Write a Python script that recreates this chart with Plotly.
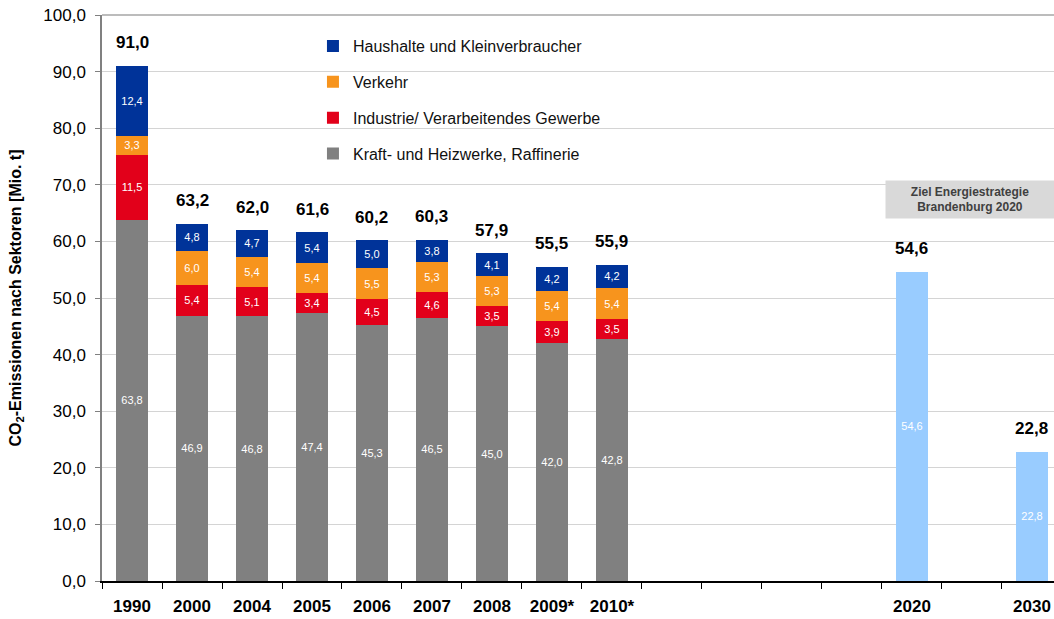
import plotly.graph_objects as go

categories = ["1990", "2000", "2004", "2005", "2006", "2007", "2008", "2009*", "2010*",
              " ", "  ", "   ", "    ", "2020", "     ", "2030"]
hist_years = ["1990", "2000", "2004", "2005", "2006", "2007", "2008", "2009*", "2010*"]
kraft = [63.8, 46.9, 46.8, 47.4, 45.3, 46.5, 45.0, 42.0, 42.8]
industrie = [11.5, 5.4, 5.1, 3.4, 4.5, 4.6, 3.5, 3.9, 3.5]
verkehr = [3.3, 6.0, 5.4, 5.4, 5.5, 5.3, 5.3, 5.4, 5.4]
haushalte = [12.4, 4.8, 4.7, 5.4, 5.0, 3.8, 4.1, 4.2, 4.2]
totals = [91.0, 63.2, 62.0, 61.6, 60.2, 60.3, 57.9, 55.5, 55.9]
target_years = ["2020", "2030"]
targets = [54.6, 22.8]

FONT = "Liberation Sans, Arial, sans-serif"
BAR_W = 0.53


def fmt(v):
    return f"{v:.1f}".replace(".", ",")


series = [
    ("Kraft- und Heizwerke, Raffinerie", kraft, "#808080", 4),
    ("Industrie/ Verarbeitendes Gewerbe", industrie, "#E2001A", 3),
    ("Verkehr", verkehr, "#F7941D", 2),
    ("Haushalte und Kleinverbraucher", haushalte, "#003399", 1),
]

fig = go.Figure()
for name, vals, color, rank in series:
    fig.add_trace(go.Bar(
        x=hist_years, y=vals, name=name, marker_color=color, marker_line_width=0,
        width=BAR_W, text=[fmt(v) for v in vals], textposition="inside",
        insidetextanchor="middle", textangle=0,
        textfont=dict(family=FONT, size=11, color="white"),
        legendgroup=name, legendrank=rank,
    ))

fig.add_trace(go.Bar(
    x=target_years, y=targets, marker_color="#99CCFF", marker_line_width=0,
    width=BAR_W, text=[fmt(v) for v in targets], textposition="inside",
    insidetextanchor="middle", textangle=0,
    textfont=dict(family=FONT, size=11, color="white"), showlegend=False,
))

# total labels (annotation x given as category index, since numeric-looking names are read as numbers)
for x, t in list(zip(hist_years, totals)) + list(zip(target_years, targets)):
    fig.add_annotation(x=categories.index(x), y=t, text=f"<b>{fmt(t)}</b>", showarrow=False,
                       yanchor="middle", yshift=23,
                       font=dict(family=FONT, size=17, color="black"))

# white background behind legend (covers gridlines)
fig.add_shape(type="rect", xref="paper", yref="paper", x0=0.1985, x1=0.56,
              y0=0.705, y1=0.99, fillcolor="white", line_width=0, layer="between")
# top border line at 100
fig.add_shape(type="line", xref="paper", yref="paper", x0=0, x1=1, y0=1, y1=1,
              line=dict(color="#A6A6A6", width=1.5), layer="between")

fig.add_annotation(xref="paper", yref="paper", x=0.9118, y=0.674,
                   text="<b>Ziel Energiestrategie<br>Brandenburg 2020</b>",
                   showarrow=False, bgcolor="#D9D9D9", width=166, height=35,
                   xanchor="center", yanchor="middle",
                   font=dict(family=FONT, size=12, color="#404040"))

fig.update_layout(
    width=1054, height=619,
    margin=dict(l=102, r=0, t=15, b=38, autoexpand=False),
    barmode="stack", separators=",.",
    plot_bgcolor="white", paper_bgcolor="white",
    font=dict(family=FONT, color="black"),
    legend=dict(x=0.2216, y=0.975, xanchor="left", yanchor="top",
                bgcolor="rgba(0,0,0,0)", font=dict(family=FONT, size=16, color="#111111"),
                tracegroupgap=12, traceorder="grouped"),
    xaxis=dict(type="category", categoryorder="array", categoryarray=categories,
               range=[-0.5, 15.367], tickson="boundaries", ticks="outside", ticklen=6,
               tickcolor="black", showline=True, linecolor="black", linewidth=1.5,
               showgrid=False, automargin=False, ticklabeloverflow="allow",
               tickfont=dict(family=FONT, size=17, color="black", weight="bold"),
               ticklabelstandoff=9),
    yaxis=dict(range=[0, 100], dtick=10, tickformat=".1f", showgrid=True,
               gridcolor="#D4D4D4", gridwidth=1, showline=True, linecolor="#808080",
               linewidth=1.5, ticks="outside", ticklen=5, tickcolor="#808080",
               tickfont=dict(family=FONT, size=17, color="black"), ticklabelstandoff=6,
               zeroline=False, automargin=False, ticklabeloverflow="allow",
               title=dict(text="<b>CO<sub>2</sub>-Emissionen nach Sektoren [Mio. t]</b>",
                          font=dict(family=FONT, size=16, color="black"), standoff=18)),
)

fig.write_html("out.html", config={"displayModeBar": False},
               post_script="document.body.style.margin='0';document.body.style.overflow='hidden';")
